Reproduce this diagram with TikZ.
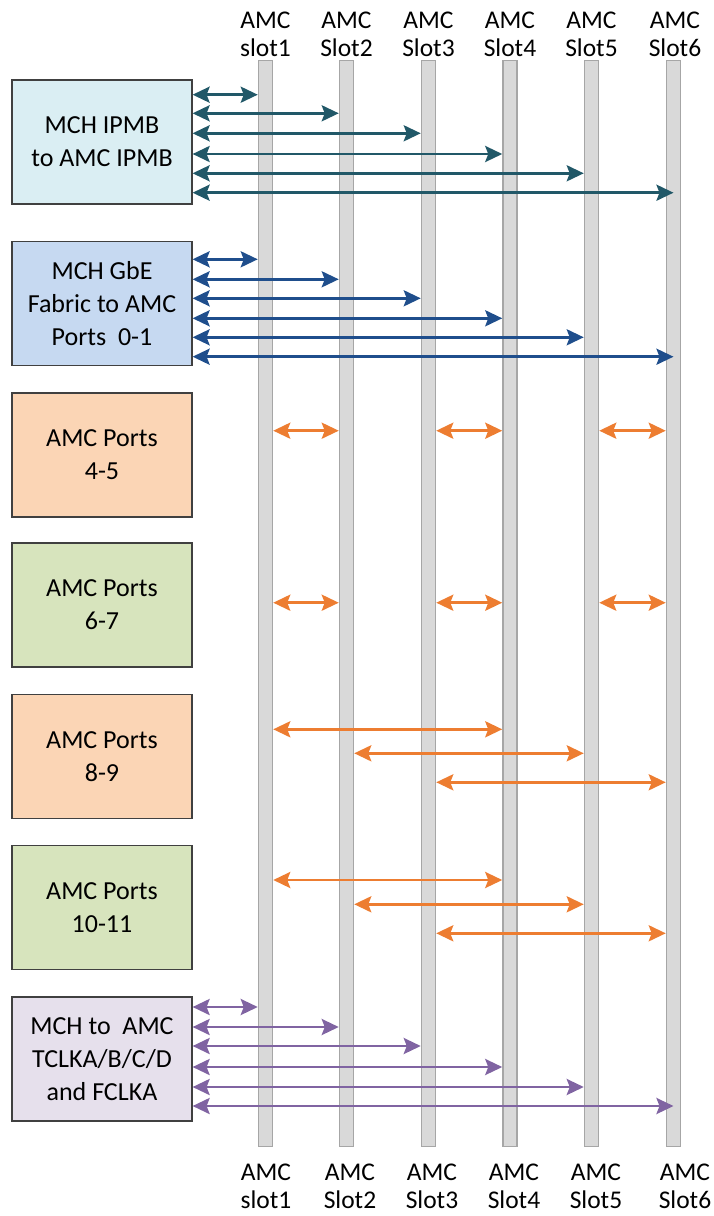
\documentclass[tikz,border=0pt]{standalone}
\usepackage{fontspec}
\setmainfont{Carlito}
\usetikzlibrary{arrows.meta}
\definecolor{cteal}{HTML}{215868}
\definecolor{cnavy}{HTML}{1F4E8C}
\definecolor{corange}{HTML}{ED7D31}
\definecolor{cpurple}{HTML}{8064A2}
\definecolor{fblue}{HTML}{DAEEF3}
\definecolor{fnavy}{HTML}{C6D9F1}
\definecolor{fpeach}{HTML}{FBD5B5}
\definecolor{fgreen}{HTML}{D7E4BD}
\definecolor{fpurple}{HTML}{E6E0EC}
\definecolor{barfill}{HTML}{D9D9D9}
\definecolor{barline}{HTML}{A6A6A6}
\definecolor{boxline}{HTML}{404040}
\tikzset{
  slotbar/.style={draw=barline, fill=barfill, line width=1.5pt, minimum width=14pt, minimum height=1086pt, inner sep=0pt},
  portbox/.style={draw=boxline, line width=1.2pt, minimum width=180pt, minimum height=124pt, inner sep=0pt, align=center, font=\fontsize{26}{33}\selectfont},
  slotlabel/.style={align=center, inner sep=0pt, font=\fontsize{25.5}{28}\selectfont},
  link/.style={line width=2.8pt, {Stealth[length=17pt,width=16pt,inset=3pt]}-{Stealth[length=17pt,width=16pt,inset=3pt]}},
}
\begin{document}
\begin{tikzpicture}[x=1pt,y=-1pt]
\useasboundingbox (0,0) rectangle (714,1216);
% slot bars
\foreach \i/\x in {1/265.5,2/346.5,3/428.5,4/510,5/591.5,6/673.5}{
  \node[slotbar] (s\i) at (\x,603.5) {};
}
% slot labels
\node[slotlabel] (t1) at (265.5,34) {AMC\\slot1};
\node[slotlabel] (t2) at (346.5,34) {AMC\\Slot2};
\node[slotlabel] (t3) at (428.5,34) {AMC\\Slot3};
\node[slotlabel] (t4) at (510,34) {AMC\\Slot4};
\node[slotlabel] (t5) at (591.5,34) {AMC\\Slot5};
\node[slotlabel] (t6) at (675,34) {AMC\\Slot6};
\node[slotlabel] (u1) at (266,1186) {AMC\\slot1};
\node[slotlabel] (u2) at (350,1186) {AMC\\Slot2};
\node[slotlabel] (u3) at (432,1186) {AMC\\Slot3};
\node[slotlabel] (u4) at (514,1186) {AMC\\Slot4};
\node[slotlabel] (u5) at (596,1186) {AMC\\Slot5};
\node[slotlabel] (u6) at (685,1186) {AMC\\Slot6};
% boxes
\node[portbox, fill=fblue] (b1) at (102,142) {MCH IPMB\\to AMC IPMB};
\node[portbox, fill=fnavy] (b2) at (102,303.7) {MCH GbE\\Fabric to AMC\\Ports\ \ 0-1};
\node[portbox, fill=fpeach] (b3) at (102,455) {AMC Ports\\4-5};
\node[portbox, fill=fgreen] (b4) at (102,605) {AMC Ports\\6-7};
\node[portbox, fill=fpeach] (b5) at (102,756.5) {AMC Ports\\8-9};
\node[portbox, fill=fgreen] (b6) at (102,907.5) {AMC Ports\\10-11};
\node[portbox, fill=fpurple] (b7) at (102,1059) {MCH to\ \ AMC\\TCLKA/B/C/D\\and FCLKA};
% IPMB links
\foreach \i/\y in {1/94.7,2/113.3,3/133.3,4/154,5/173.3}{
  \draw[link, cteal] (b1.east |- 0,\y) -- (s\i.west |- 0,\y);
}
\draw[link, cteal] (b1.east |- 0,192.7) -- (s6.center |- 0,192.7);
% GbE links
\foreach \i/\y in {1/259.3,2/279.3,3/298.3,4/318.3,5/337.3}{
  \draw[link, cnavy] (b2.east |- 0,\y) -- (s\i.west |- 0,\y);
}
\draw[link, cnavy] (b2.east |- 0,356.7) -- (s6.center |- 0,356.7);
% clock links
\foreach \i/\y in {1/1007,2/1027,3/1046,4/1067,5/1087}{
  \draw[link, cpurple] (b7.east |- 0,\y) -- (s\i.west |- 0,\y);
}
\draw[link, cpurple] (b7.east |- 0,1106) -- (s6.center |- 0,1106);
% ports 4-5 and 6-7
\foreach \y in {430.7,602.7}{
  \draw[link, corange] (s1.east |- 0,\y) -- (s2.west |- 0,\y);
  \draw[link, corange] (s3.east |- 0,\y) -- (s4.west |- 0,\y);
  \draw[link, corange] (s5.east |- 0,\y) -- (s6.west |- 0,\y);
}
% ports 8-9 and 10-11
\foreach \ya/\yb/\yc in {729.3/753.3/782.3, 880/904.3/933.3}{
  \draw[link, corange] (s1.east |- 0,\ya) -- (s4.west |- 0,\ya);
  \draw[link, corange] (s2.east |- 0,\yb) -- (s5.west |- 0,\yb);
  \draw[link, corange] (s3.east |- 0,\yc) -- (s6.west |- 0,\yc);
}
\end{tikzpicture}
\end{document}
